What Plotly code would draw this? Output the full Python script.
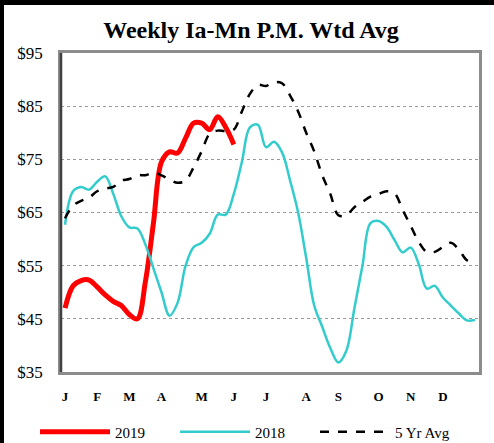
import plotly.graph_objects as go

weeks = list(range(52))
month_ticks = [0, 4, 8, 12, 17, 21, 25, 30, 34, 39, 43, 47]
month_labels = ["J", "F", "M", "A", "M", "J", "J", "A", "S", "O", "N", "D"]

y2019 = [47.0, 51.2, 52.2, 52.3, 51.0, 49.5, 48.3, 47.5, 45.8, 45.0, 52.0, 63.0,
         74.5, 76.4, 76.2, 79.0, 81.8, 81.8, 80.6, 83.0, 81.0, 77.8]

y2018 = [62.7, 69.0, 69.8, 69.3, 70.8, 71.8, 68.5, 64.3, 62.2, 62.0, 59.0, 54.5,
         50.0, 45.6, 48.0, 55.0, 58.5, 59.3, 61.0, 64.6, 64.6, 68.5, 74.5, 81.0,
         81.5, 77.3, 78.3, 76.3, 71.0, 65.0, 56.5, 47.5, 43.5, 39.5, 36.8, 39.0,
         47.0, 55.0, 63.0, 63.4, 62.3, 59.8, 57.5, 58.4, 55.3, 50.7, 51.2, 49.0,
         47.5, 46.0, 44.7, 44.8]

y5yr = [63.9, 66.3, 67.2, 67.8, 69.0, 69.5, 69.8, 71.0, 71.3, 72.0, 72.0, 72.5,
        72.0, 71.2, 70.6, 71.0, 73.5, 76.5, 79.8, 80.4, 80.3, 80.6, 84.0, 87.3,
        89.0, 88.8, 89.5, 89.3, 87.0, 84.0, 80.0, 76.5, 72.0, 68.5, 64.5, 64.5,
        66.0, 67.0, 68.0, 68.5, 69.0, 68.6, 65.5, 62.5, 59.5, 57.6, 57.6, 58.5,
        59.3, 58.0, 56.0, 55.5]

y_ticks = [35, 45, 55, 65, 75, 85, 95]
y_labels = ["$35", "$45", "$55", "$65", "$75", "$85", "$95"]

serif = "Liberation Serif"

fig = go.Figure()
fig.add_trace(go.Scatter(x=weeks[:len(y2019)], y=y2019, name="2019", mode="lines",
                         line=dict(color="#FF0000", width=5, shape="spline")))
fig.add_trace(go.Scatter(x=weeks, y=y2018, name="2018", mode="lines",
                         line=dict(color="#33CCCC", width=2.5, shape="spline")))
fig.add_trace(go.Scatter(x=weeks, y=y5yr, name="5 Yr Avg", mode="lines",
                         line=dict(color="#000000", width=2.5, dash="dash", shape="spline")))

L, R, T, B = 61, 15, 53, 71
W, H = 494, 443
pw, ph = W - L - R, H - T - B

def px(x):
    return (x - L) / pw

def py(y):
    return (H - B - y) / ph

shapes = [
    dict(type="rect", xref="paper", yref="paper", x0=px(0), x1=px(4), y0=py(H), y1=py(0),
         fillcolor="black", line=dict(width=0), layer="above"),
    dict(type="rect", xref="paper", yref="paper", x0=px(0), x1=px(W), y0=py(5), y1=py(0),
         fillcolor="black", line=dict(width=0), layer="above"),
    dict(type="line", xref="paper", yref="paper", x0=0, x1=0, y0=0, y1=1,
         line=dict(color="#404040", width=2.5), layer="above"),
]

fig.update_layout(
    width=W, height=H,
    margin=dict(l=L, r=R, t=T, b=B),
    paper_bgcolor="white", plot_bgcolor="white",
    title=dict(text="<b>Weekly Ia-Mn P.M. Wtd Avg</b>", x=251 / W, xanchor="center",
               xref="container", y=1 - 30 / H, yanchor="middle",
               font=dict(family=serif, size=24, color="black")),
    font=dict(family=serif, color="black"),
    showlegend=True,
    legend=dict(orientation="h", xref="container", x=35 / W, xanchor="left",
                yref="container", y=1 - 432 / H, yanchor="middle",
                font=dict(family=serif, size=15, color="black"),
                itemwidth=70, entrywidth=55, bgcolor="rgba(0,0,0,0)"),
    shapes=shapes,
)

fig.update_xaxes(range=[-0.5, 51.5], tickmode="array", tickvals=month_ticks,
                 ticktext=month_labels, showgrid=False, zeroline=False,
                 showline=True, linecolor="#8C8C8C", linewidth=2.5, mirror=True,
                 ticks="", ticklabelstandoff=11,
                 tickfont=dict(family=serif, size=13, color="black", weight="bold"))
fig.update_yaxes(range=[35, 95], tickmode="array", tickvals=y_ticks, ticktext=y_labels,
                 showgrid=True, gridcolor="#9A9A9A", gridwidth=1, griddash="dot",
                 zeroline=False, showline=True, linecolor="#8C8C8C", linewidth=2.5,
                 mirror=True, ticks="", ticklabelstandoff=12,
                 tickfont=dict(family=serif, size=17, color="black"))

fig.write_html("out.html", config={"displayModeBar": False},
               post_script="document.body.style.margin='0';")
